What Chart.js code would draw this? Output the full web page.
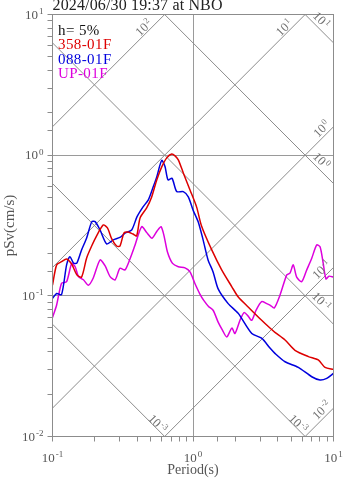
<!DOCTYPE html>
<html>
<head>
<meta charset="utf-8">
<script src="https://cdn.jsdelivr.net/npm/chart.js@4.4.1/dist/chart.umd.min.js"></script>
<style>
    html, body { margin: 0; padding: 0; background: #ffffff; }
    #wrap { width: 347px; height: 478px; position: relative; }
</style>
</head>
<body>
<div id="wrap"><canvas id="spectre"></canvas></div>
<script>
// --- textes ---
const titleText = '2024/06/30 19:37 at NBO';
const dampingText = 'h= 5%';
const seriesNames = ['358-01F', '088-01F', 'UP-01F'];
const seriesColors = ['#dd0000', '#0000dd', '#dd00dd'];

// --- graduations ---
const periodTicks = [0.1, 1, 10];
const psvTicks = [0.01, 0.1, 1, 10];

// --- reseau tripartite (deplacement en cm, acceleration en cm/s2) ---
const dispLevels = [0.001, 0.01, 0.1, 1, 10];
const dispLabels = ['-3', '-3', '-1', '0', '1'];
const accLevels = [0.01, 0.1, 1, 10, 100];
const accLabels = ['-2', '-1', '0', '1', '2'];

// --- 358-01F ---
const redPeriods = [0.100, 0.107, 0.116, 0.126, 0.137, 0.149, 0.161, 0.175, 0.190, 0.206, 0.230, 0.246, 0.264, 0.286, 0.302, 0.323, 0.345, 0.374, 0.397, 0.420, 0.468, 0.508, 0.552, 0.599, 0.650, 0.706, 0.745, 0.786, 0.853, 0.952, 1.06, 1.15, 1.36, 1.60, 1.89, 2.10, 2.48, 3.08, 3.53, 3.83, 4.52, 5.32, 6.62, 7.79, 8.70, 10.0];
const redPsv = [0.119, 0.166, 0.175, 0.183, 0.168, 0.141, 0.136, 0.186, 0.226, 0.267, 0.319, 0.304, 0.254, 0.226, 0.226, 0.280, 0.284, 0.275, 0.267, 0.358, 0.422, 0.505, 0.667, 0.825, 0.957, 1.02, 0.989, 0.926, 0.748, 0.566, 0.429, 0.314, 0.212, 0.153, 0.116, 0.098, 0.083, 0.067, 0.059, 0.055, 0.0485, 0.041, 0.037, 0.035, 0.031, 0.030];

// --- 088-01F ---
const bluePeriods = [0.100, 0.107, 0.116, 0.126, 0.133, 0.141, 0.149, 0.161, 0.175, 0.190, 0.201, 0.218, 0.243, 0.271, 0.302, 0.328, 0.366, 0.399, 0.441, 0.481, 0.522, 0.552, 0.599, 0.632, 0.664, 0.709, 0.766, 0.853, 0.926, 1.00, 1.09, 1.18, 1.28, 1.39, 1.51, 1.78, 2.10, 2.62, 3.08, 3.53, 3.83, 4.52, 5.62, 7.00, 8.02, 8.95, 10.0];
const bluePsv = [0.096, 0.104, 0.102, 0.166, 0.190, 0.171, 0.171, 0.212, 0.258, 0.335, 0.337, 0.294, 0.234, 0.250, 0.260, 0.279, 0.294, 0.364, 0.429, 0.481, 0.598, 0.701, 0.918, 0.830, 0.667, 0.686, 0.551, 0.551, 0.505, 0.408, 0.335, 0.250, 0.180, 0.148, 0.112, 0.088, 0.075, 0.054, 0.050, 0.0425, 0.039, 0.034, 0.031, 0.0266, 0.0252, 0.0259, 0.0281];

// --- UP-01F ---
const upPeriods = [0.100, 0.107, 0.116, 0.126, 0.137, 0.145, 0.153, 0.166, 0.180, 0.195, 0.218, 0.237, 0.257, 0.279, 0.302, 0.328, 0.356, 0.387, 0.431, 0.468, 0.511, 0.555, 0.592, 0.622, 0.658, 0.715, 0.786, 0.877, 0.952, 1.03, 1.12, 1.20, 1.29, 1.39, 1.51, 1.62, 1.74, 1.89, 1.99, 2.16, 2.31, 2.46, 2.62, 2.81, 3.08, 3.35, 3.53, 3.79, 4.16, 4.65, 4.90, 5.17, 5.47, 5.94, 6.45, 7.00, 7.59, 8.02, 8.42, 8.84, 9.29, 10.0];
const upPsv = [0.070, 0.086, 0.123, 0.126, 0.170, 0.161, 0.137, 0.130, 0.119, 0.134, 0.180, 0.163, 0.137, 0.130, 0.157, 0.153, 0.183, 0.230, 0.310, 0.282, 0.257, 0.289, 0.310, 0.267, 0.205, 0.170, 0.161, 0.158, 0.148, 0.123, 0.103, 0.092, 0.084, 0.079, 0.065, 0.057, 0.051, 0.059, 0.054, 0.067, 0.076, 0.072, 0.067, 0.079, 0.091, 0.088, 0.086, 0.082, 0.101, 0.141, 0.145, 0.166, 0.136, 0.126, 0.153, 0.185, 0.230, 0.223, 0.174, 0.132, 0.138, 0.136];

const SERIF = '"Liberation Serif", "Times New Roman", serif';
const TWO_PI = 2 * Math.PI;

function toPoints(periods, values) {
    return periods.map((t, i) => ({ x: t, y: values[i] }));
}

function isDecade(v) {
    const l = Math.log10(v);
    return Math.abs(l - Math.round(l)) < 1e-6;
}

// "10" + exposant, centre vertical sur y
function drawPow(ctx, x, y, exp, size, supSize, align) {
    ctx.font = size + 'px ' + SERIF;
    const wBase = ctx.measureText('10').width;
    ctx.font = supSize + 'px ' + SERIF;
    const wExp = ctx.measureText(exp).width;
    const total = wBase + 1 + wExp;
    const x0 = align === 'right' ? x - total : (align === 'center' ? x - total / 2 : x);
    const base = y + size * 0.33;
    ctx.textAlign = 'left';
    ctx.textBaseline = 'alphabetic';
    ctx.font = size + 'px ' + SERIF;
    ctx.fillText('10', x0, base);
    ctx.font = supSize + 'px ' + SERIF;
    ctx.fillText(exp, x0 + wBase + 1, base - size * 0.36);
}

// segment d'une droite du reseau (en pixels) entre T=0.1 et T=10
function diagSegment(scales, fn) {
    const p0 = { x: scales.x.getPixelForValue(0.1), y: scales.y.getPixelForValue(fn(0.1)) };
    const p1 = { x: scales.x.getPixelForValue(10), y: scales.y.getPixelForValue(fn(10)) };
    return [p0, p1];
}

// point de sortie du cadre (cote droit) et bord touche
function exitPoint(p0, p1, a) {
    let t = 1, edge = 'right';
    if (p1.y < a.top) {
        const tt = (a.top - p0.y) / (p1.y - p0.y);
        if (tt < t) { t = tt; edge = 'top'; }
    }
    if (p1.y > a.bottom) {
        const tt = (a.bottom - p0.y) / (p1.y - p0.y);
        if (tt < t) { t = tt; edge = 'bottom'; }
    }
    return { x: p0.x + t * (p1.x - p0.x), y: p0.y + t * (p1.y - p0.y), edge: edge };
}

const tripartite = {
    id: 'tripartite',
    beforeDatasetsDraw(chart) {
        const { ctx, chartArea: a, scales } = chart;
        ctx.save();
        ctx.beginPath();
        ctx.rect(a.left, a.top, a.right - a.left, a.bottom - a.top);
        ctx.clip();
        ctx.strokeStyle = '#8c8c8c';
        ctx.lineWidth = 1;
        const all = dispLevels.map(d => (t) => TWO_PI * d / t)
            .concat(accLevels.map(acc => (t) => acc * t / TWO_PI));
        all.forEach(fn => {
            const [p0, p1] = diagSegment(scales, fn);
            ctx.beginPath();
            ctx.moveTo(p0.x, p0.y);
            ctx.lineTo(p1.x, p1.y);
            ctx.stroke();
        });
        ctx.restore();
    },
    afterDraw(chart) {
        const { ctx, chartArea: a, scales } = chart;
        ctx.save();

        // cadre
        ctx.strokeStyle = '#8c8c8c';
        ctx.lineWidth = 1;
        ctx.strokeRect(a.left, a.top, a.right - a.left, a.bottom - a.top);

        // etiquettes du reseau
        ctx.fillStyle = '#707070';
        const offsets = {
            'acc-top': [-21, 13], 'acc-right': [-12, 2],
            'disp-right': [-12, -23], 'disp-bottom': [-7, -13]
        };
        dispLevels.forEach((d, i) => {
            const [p0, p1] = diagSegment(scales, (t) => TWO_PI * d / t);
            const e = exitPoint(p0, p1, a);
            const off = offsets['disp-' + e.edge] || [-12, -23];
            ctx.save();
            ctx.translate(e.x + off[0], e.y + off[1]);
            ctx.rotate(Math.PI / 4);
            drawPow(ctx, 0, 0, dispLabels[i], 12.5, 8.5, 'center');
            ctx.restore();
        });
        accLevels.forEach((acc, i) => {
            const [p0, p1] = diagSegment(scales, (t) => acc * t / TWO_PI);
            const e = exitPoint(p0, p1, a);
            const off = offsets['acc-' + e.edge] || [-12, 2];
            ctx.save();
            ctx.translate(e.x + off[0], e.y + off[1]);
            ctx.rotate(-Math.PI / 4);
            drawPow(ctx, 0, 0, accLabels[i], 12.5, 8.5, 'center');
            ctx.restore();
        });

        // graduations
        ctx.fillStyle = '#555555';
        psvTicks.forEach(v => {
            drawPow(ctx, a.left - 9, scales.y.getPixelForValue(v), String(Math.round(Math.log10(v))), 13, 9, 'right');
        });
        periodTicks.forEach(v => {
            drawPow(ctx, scales.x.getPixelForValue(v), a.bottom + 21, String(Math.round(Math.log10(v))), 13, 9, 'center');
        });

        // titres des axes
        ctx.font = '14px ' + SERIF;
        ctx.textAlign = 'center';
        ctx.textBaseline = 'alphabetic';
        ctx.fillText('Period(s)', (a.left + a.right) / 2, 474);
        ctx.save();
        ctx.translate(14, (a.top + a.bottom) / 2);
        ctx.rotate(-Math.PI / 2);
        ctx.font = '15px ' + SERIF;
        ctx.fillText('pSv(cm/s)', 0, 0);
        ctx.restore();

        // titre
        ctx.textAlign = 'left';
        ctx.fillStyle = '#222222';
        ctx.font = '16px ' + SERIF;
        ctx.letterSpacing = '0.15px';
        ctx.fillText(titleText, a.left, 9.5);

        // legende
        ctx.font = '15px ' + SERIF;
        ctx.letterSpacing = '0.4px';
        ctx.fillStyle = '#111111';
        ctx.fillText(dampingText, a.left + 5.5, 34.5);
        seriesNames.forEach((n, i) => {
            ctx.fillStyle = seriesColors[i];
            ctx.fillText(n, a.left + 5.5, 49 + i * 14.5);
        });
        ctx.letterSpacing = '0px';

        ctx.restore();
    }
};

const gridOpts = {
    color: (c) => (c.tick && isDecade(c.tick.value)) ? '#9a9a9a' : 'rgba(0,0,0,0)',
    tickColor: '#8c8c8c',
    tickLength: 5,
    lineWidth: 1,
    drawTicks: true
};

const ctxSpectre = document.getElementById('spectre').getContext('2d');
const spectreChart = new Chart(ctxSpectre, {
    type: 'line',
    data: {
        datasets: [
            { label: seriesNames[0], data: toPoints(redPeriods, redPsv), borderColor: seriesColors[0] },
            { label: seriesNames[1], data: toPoints(bluePeriods, bluePsv), borderColor: seriesColors[1] },
            { label: seriesNames[2], data: toPoints(upPeriods, upPsv), borderColor: seriesColors[2] }
        ]
    },
    options: {
        responsive: true,
        maintainAspectRatio: false,
        animation: false,
        devicePixelRatio: 1,
        layout: { padding: { left: 47.5, right: 13.5, top: 14.5, bottom: 36.5 } },
        elements: {
            point: { radius: 0 },
            line: { borderWidth: 1.5, tension: 0.25, fill: false }
        },
        scales: {
            x: {
                type: 'logarithmic', min: 0.1, max: 10,
                ticks: { display: false, autoSkip: false },
                grid: gridOpts,
                border: { color: '#8c8c8c' }
            },
            y: {
                type: 'logarithmic', min: 0.01, max: 10,
                ticks: { display: false, autoSkip: false },
                grid: gridOpts,
                border: { color: '#8c8c8c' }
            }
        },
        plugins: {
            legend: { display: false },
            tooltip: { enabled: false }
        }
    },
    plugins: [tripartite]
});
</script>
</body>
</html>
